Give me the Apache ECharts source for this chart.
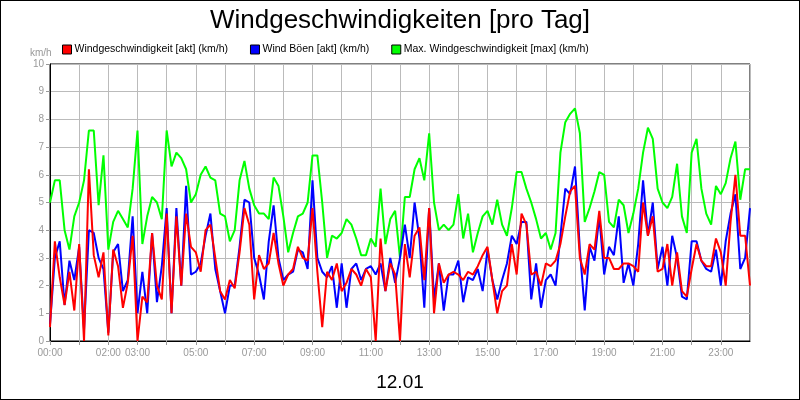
<!DOCTYPE html>
<html><head><meta charset="utf-8">
<script src="https://cdn.jsdelivr.net/npm/echarts@6/dist/echarts.min.js"></script>
<style>html,body{margin:0;padding:0}#c{width:800px;height:400px;box-sizing:border-box;border:1px solid #000}</style>
</head><body><div id="c"></div>
<script>
// 10-minute samples, 00:00 .. 24:00
const stepMinutes = 10;
const windAkt = [0.5,3.6,2.3,1.3,2.5,1.1,3.5,0,6.2,3.1,2.3,3.2,0.2,3.3,2.7,1.2,2.1,3.8,0,1.6,1.4,3.9,2.0,1.5,
4.6,1.0,4.5,2.0,4.6,3.4,3.2,2.5,4.0,4.2,3.0,1.8,1.5,2.2,1.9,3.2,4.8,4.2,1.5,3.1,2.6,2.8,3.9,2.8,
2.0,2.4,2.6,3.4,3.0,2.9,4.8,2.5,0.5,2.5,2.2,2.8,1.8,2.1,2.6,2.4,2.0,2.6,2.3,0,3.7,1.8,2.8,2.4,
0,3.5,2.3,3.8,4.1,2.2,4.8,1.0,2.8,2.1,2.4,2.5,2.4,2.2,2.5,2.4,2.7,3.1,3.4,2.2,1.0,1.8,2.0,3.5,
2.4,4.6,4.2,2.4,2.5,2.0,2.8,2.7,2.9,3.5,4.5,5.4,5.6,3.0,2.4,3.5,3.3,4.7,3.0,3.0,2.6,2.6,2.8,2.8,
2.7,2.5,5.0,3.8,4.5,2.5,2.6,3.5,2.0,3.2,1.8,1.6,2.6,3.5,2.9,2.7,2.7,3.7,3.2,2.0,4.3,6.0,3.8,3.8,2.0];
const windBoeen = [0.6,3.0,3.6,1.3,2.9,2.2,3.4,0.4,4.0,3.9,3.0,2.6,0.3,3.2,3.5,1.8,2.2,4.5,1.0,2.5,1.0,3.9,1.4,2.7,
4.8,1.0,4.8,2.0,5.6,2.4,2.5,2.8,3.8,4.6,2.6,1.8,1.0,2.0,2.0,3.4,5.1,5.0,3.0,2.4,1.5,3.6,4.9,3.0,
2.2,2.4,2.5,3.3,3.2,2.6,5.8,3.0,2.5,2.3,2.7,1.2,2.8,1.2,2.6,2.8,2.2,2.6,2.7,2.4,2.8,1.8,3.0,2.1,
3.0,4.2,3.0,5.0,3.7,1.2,4.8,1.5,2.8,1.1,2.4,2.4,2.9,1.4,2.3,2.2,2.6,1.8,3.3,2.2,1.5,2.2,2.8,3.8,
3.5,4.3,4.3,1.5,2.8,1.2,2.2,2.4,2.0,3.8,5.5,5.3,6.3,3.3,1.1,3.4,2.9,4.5,2.4,3.4,3.1,4.5,2.1,2.8,
2.0,3.5,5.8,3.8,5.0,2.6,3.4,2.0,3.8,3.0,1.6,1.5,3.6,3.6,2.9,2.6,2.5,3.3,2.0,3.6,4.6,5.3,2.6,3.0,4.8];
const windMax = [5.0,5.8,5.8,4.0,3.3,4.5,5.0,5.8,7.6,7.6,4.9,6.7,3.3,4.3,4.7,4.4,4.1,5.5,7.6,3.5,4.5,5.2,5.0,4.4,
7.6,6.3,6.8,6.6,6.2,5.0,5.3,6.0,6.3,5.9,5.8,4.6,4.5,3.6,4.0,5.8,6.5,5.5,4.9,4.6,4.6,4.4,5.9,5.6,
4.5,3.2,3.9,4.5,4.6,5.0,6.7,6.7,5.0,3.0,3.8,3.7,3.9,4.4,4.2,3.7,3.1,3.1,3.7,3.4,5.5,3.5,4.4,4.7,
3.0,5.2,5.2,6.2,6.6,5.8,7.5,5.0,4.0,4.2,4.0,4.2,5.3,3.7,4.6,3.2,3.9,4.5,4.7,4.2,5.1,4.2,3.8,4.8,
6.1,6.1,5.5,5.0,4.4,3.7,3.9,3.3,3.9,6.8,7.9,8.2,8.4,7.5,4.3,4.8,5.4,6.1,6.0,4.3,4.1,5.1,4.9,3.9,
4.6,5.5,6.8,7.7,7.3,5.5,5.0,4.8,5.2,6.4,4.5,3.9,6.8,7.3,5.5,4.6,4.2,5.6,5.3,5.7,6.6,7.2,5.1,6.2,6.2];
const shownHours = [0,2,3,5,7,9,11,13,15,17,19,21,23];
const yTicks = [0,1,2,3,4,5,6,7,8,9,10];
const seriesNames = ['Windgeschwindigkeit [akt] (km/h)','Wind Böen [akt] (km/h)','Max. Windgeschwindigkeit [max] (km/h)'];

const pairs = a => a.map((v,i)=>[i*stepMinutes, v]);
const chart = echarts.init(document.getElementById('c'));
const txt = '#999';
chart.setOption({
  animation:false,
  textStyle:{fontFamily:'Liberation Sans, Arial, sans-serif'},
  title:[{text:'Windgeschwindigkeiten [pro Tag]',left:'center',top:2,textStyle:{fontSize:26,fontWeight:'normal',color:'#000'}},
         {text:'12.01',left:'center',top:367,textStyle:{fontSize:19,fontWeight:'normal',color:'#000'}},
         {text:'km/h',left:24,top:42,textStyle:{fontSize:10,fontWeight:'normal',color:txt}}],
  legend:{top:38,left:56,itemGap:22,itemWidth:9,itemHeight:9,icon:'rect',
    textStyle:{fontSize:10.5,color:'#000',padding:[0,0,0,-2]},
    data:[{name:seriesNames[0],itemStyle:{color:'#f00',borderColor:'#000',borderWidth:1}},
          {name:seriesNames[1],itemStyle:{color:'#00f',borderColor:'#000',borderWidth:1}},
          {name:seriesNames[2],itemStyle:{color:'#0f0',borderColor:'#000',borderWidth:1}}]},
  grid:{left:49,right:49,top:63,bottom:58,show:true,borderColor:'#000',borderWidth:1},
  xAxis:{type:'value',min:0,max:1440,interval:60,
    axisLine:{lineStyle:{color:'#000'}},axisTick:{show:true,length:4,lineStyle:{color:'#999'}},
    splitLine:{lineStyle:{color:'#bbb'}},
    axisLabel:{color:txt,fontSize:10,margin:7,showMaxLabel:false,
      formatter:v=>{const h=v/60;return shownHours.includes(h)?String(h).padStart(2,'0')+':00':'';}}},
  yAxis:{type:'value',min:yTicks[0],max:yTicks[yTicks.length-1],interval:1,
    axisLine:{show:true,lineStyle:{color:'#000'}},axisTick:{show:true,length:4,lineStyle:{color:'#999'}},
    splitLine:{lineStyle:{color:'#bbb'}},
    axisLabel:{color:txt,fontSize:10,margin:6}},
  series:[
    {name:seriesNames[2],type:'line',data:pairs(windMax),symbol:'none',lineStyle:{width:2,color:'#0f0'},itemStyle:{color:'#0f0'},z:1},
    {name:seriesNames[1],type:'line',data:pairs(windBoeen),symbol:'none',lineStyle:{width:2,color:'#00f'},itemStyle:{color:'#00f'},z:2},
    {name:seriesNames[0],type:'line',data:pairs(windAkt),symbol:'none',lineStyle:{width:2,color:'#f00'},itemStyle:{color:'#f00'},z:3}
  ]
});
</script></body></html>
